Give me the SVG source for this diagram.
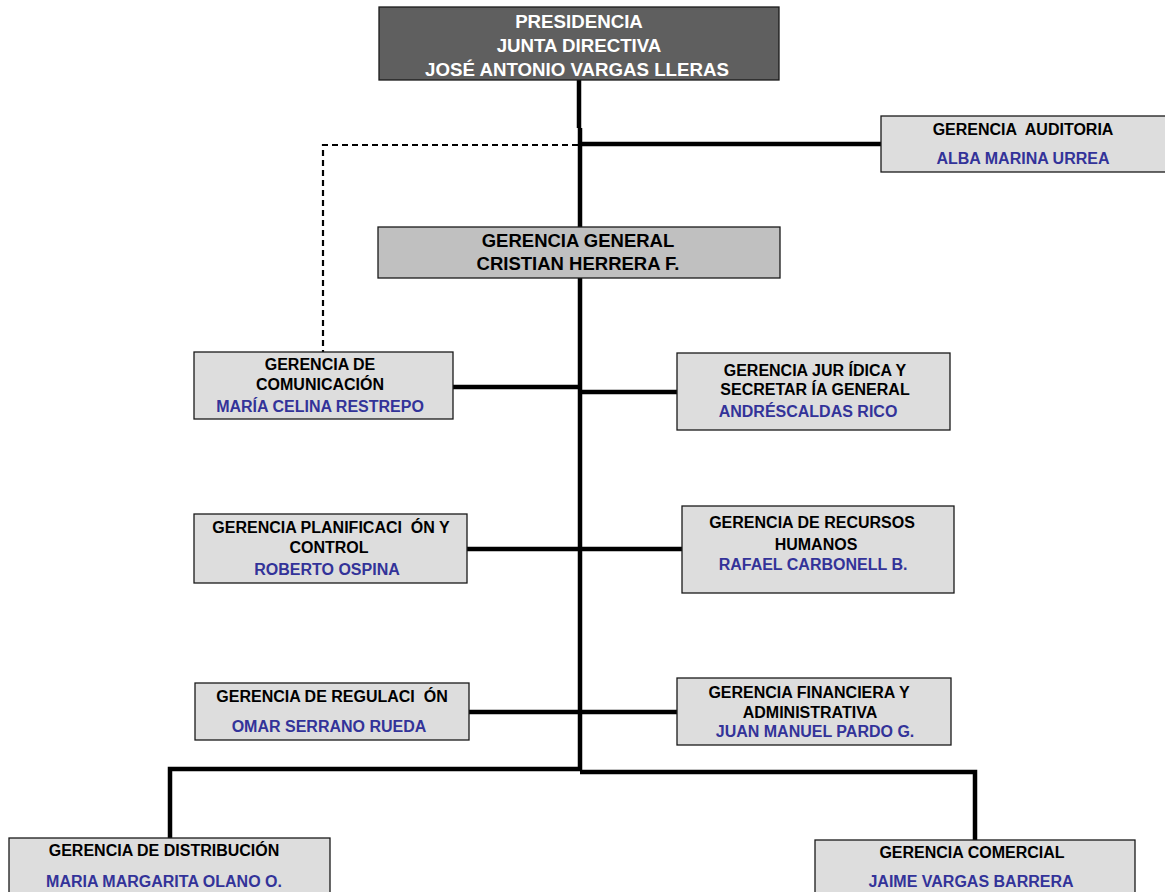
<svg xmlns="http://www.w3.org/2000/svg" width="1165" height="892" viewBox="0 0 1165 892">
<style>
text{font-family:"Liberation Sans",Arial,sans-serif;font-weight:bold;font-size:16px;text-anchor:middle;white-space:pre}
.box{fill:#dddddd;stroke:#1a1a1a;stroke-width:1.3}
.k{fill:#000}
.b{fill:#333399}
.w{fill:#ffffff;font-size:18.7px}
.g{font-size:18.5px;fill:#000}
.c{fill:none;stroke:#000;stroke-width:4.5}
.d{fill:none;stroke:#000;stroke-width:2.2;stroke-dasharray:6 4}
</style>
<rect width="1165" height="892" fill="#ffffff"/>
<g id="connectors">
<path class="c" d="M579 80V128M580 128V770"/>
<path class="c" d="M580 144H881"/>
<path class="d" d="M578 145H323V352"/>
<path class="c" d="M453 387H580M580 392H678"/>
<path class="c" d="M467 549H682"/>
<path class="c" d="M469 712H678"/>
<path class="c" d="M580 769H170V838"/>
<path class="c" d="M580 772H975V840"/>
</g>
<g id="presidencia">
<rect x="379" y="7" width="400" height="73" fill="#5f5f5f" stroke="#1a1a1a" stroke-width="1.3"/>
<text class="w" x="579" y="28">PRESIDENCIA</text>
<text class="w" x="579" y="52">JUNTA DIRECTIVA</text>
<text class="w" x="577" y="76">JOSÉ ANTONIO VARGAS LLERAS</text>
</g>
<g id="auditoria">
<rect class="box" x="881" y="116" width="290" height="56"/>
<text class="k" x="1023" y="135" xml:space="preserve">GERENCIA  AUDITORIA</text>
<text class="b" x="1023" y="164">ALBA MARINA URREA</text>
</g>
<g id="gerencia-general">
<rect x="378" y="227" width="402" height="51" fill="#c0c0c0" stroke="#1a1a1a" stroke-width="1.3"/>
<text class="g" x="578" y="247">GERENCIA GENERAL</text>
<text class="g" x="578" y="270">CRISTIAN HERRERA F.</text>
</g>
<g id="comunicacion">
<rect class="box" x="194" y="352" width="259" height="67"/>
<text class="k" x="320" y="370">GERENCIA DE</text>
<text class="k" x="320" y="390">COMUNICACIÓN</text>
<text class="b" x="320" y="412">MARÍA CELINA RESTREPO</text>
</g>
<g id="juridica">
<rect class="box" x="677" y="353" width="273" height="77"/>
<text class="k" x="815" y="376">GERENCIA JUR ÍDICA Y</text>
<text class="k" x="815" y="395">SECRETAR ÍA GENERAL</text>
<text class="b" x="808" y="417">ANDRÉSCALDAS RICO</text>
</g>
<g id="planificacion">
<rect class="box" x="194" y="514" width="273" height="69"/>
<text class="k" x="331" y="533" xml:space="preserve">GERENCIA PLANIFICACI  ÓN Y</text>
<text class="k" x="329" y="553">CONTROL</text>
<text class="b" x="327" y="575">ROBERTO OSPINA</text>
</g>
<g id="recursos-humanos">
<rect class="box" x="682" y="506" width="272" height="87"/>
<text class="k" x="812" y="528">GERENCIA DE RECURSOS</text>
<text class="k" x="816" y="550">HUMANOS</text>
<text class="b" x="813" y="570">RAFAEL CARBONELL B.</text>
</g>
<g id="regulacion">
<rect class="box" x="195" y="683" width="274" height="57"/>
<text class="k" x="332" y="702" xml:space="preserve">GERENCIA DE REGULACI  ÓN</text>
<text class="b" x="329" y="732">OMAR SERRANO RUEDA</text>
</g>
<g id="financiera">
<rect class="box" x="677" y="678" width="274" height="67"/>
<text class="k" x="809" y="698">GERENCIA FINANCIERA Y</text>
<text class="k" x="810" y="718">ADMINISTRATIVA</text>
<text class="b" x="815" y="737">JUAN MANUEL PARDO G.</text>
</g>
<g id="distribucion">
<rect class="box" x="9" y="838" width="321" height="70"/>
<text class="k" x="164" y="856">GERENCIA DE DISTRIBUCIÓN</text>
<text class="b" x="164" y="887">MARIA MARGARITA OLANO O.</text>
</g>
<g id="comercial">
<rect class="box" x="815" y="840" width="320" height="70"/>
<text class="k" x="972" y="858">GERENCIA COMERCIAL</text>
<text class="b" x="971" y="887">JAIME VARGAS BARRERA</text>
</g>
</svg>
